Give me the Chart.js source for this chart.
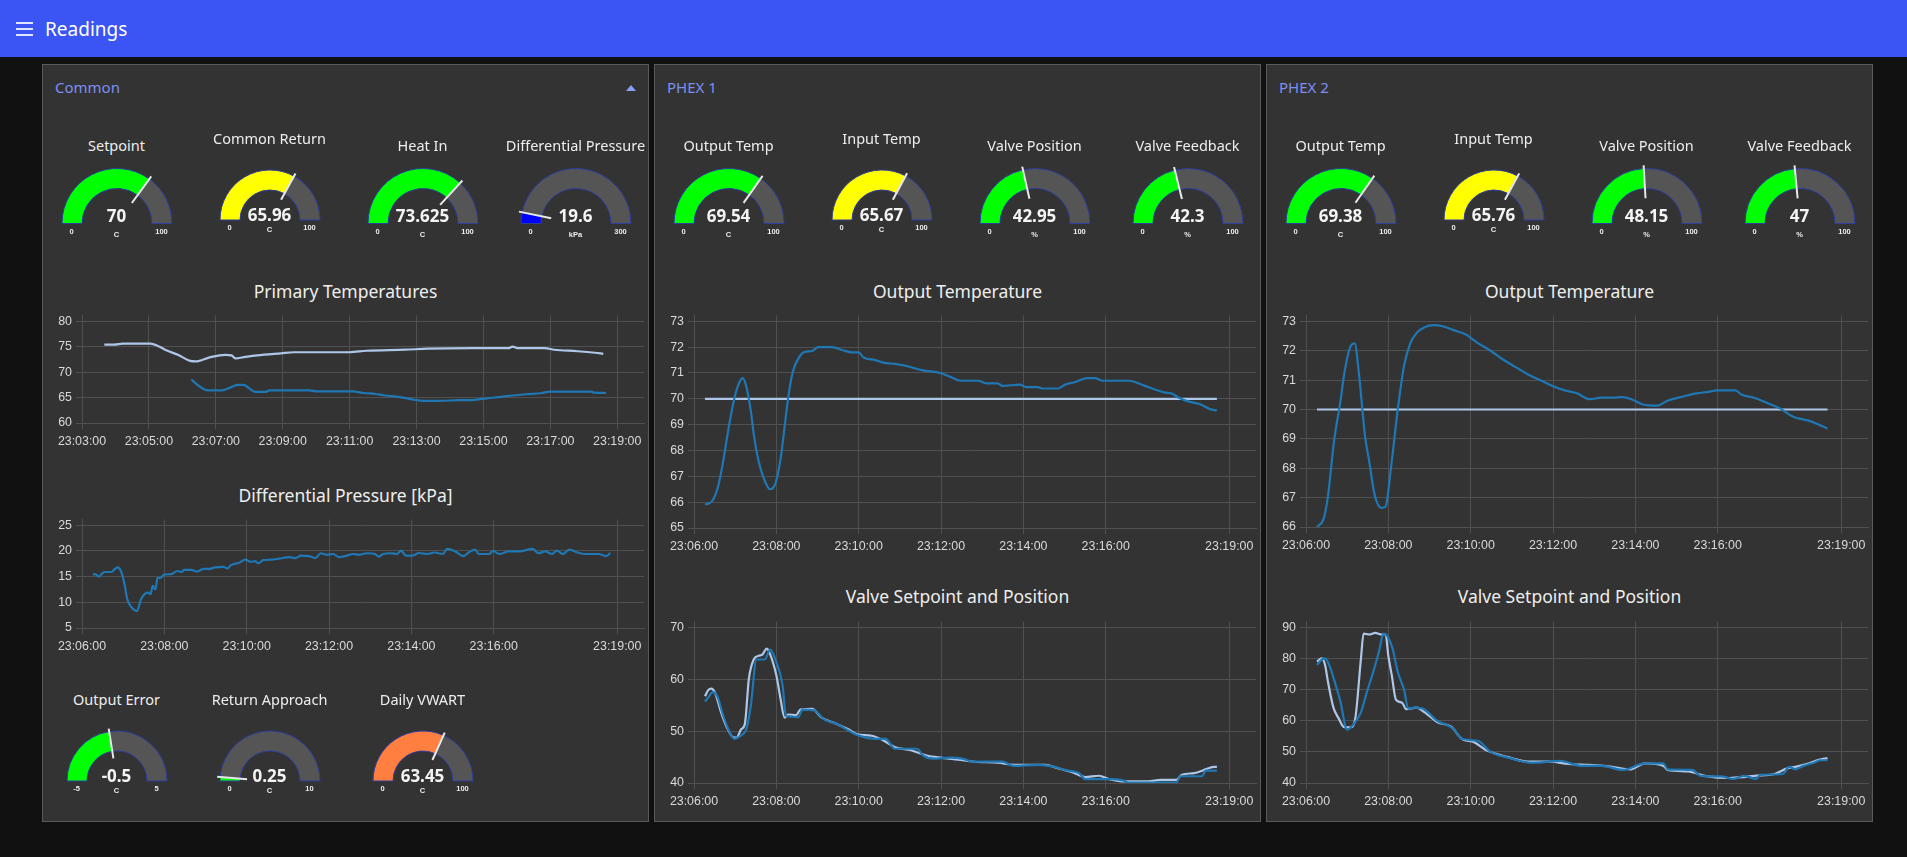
<!DOCTYPE html>
<html>
<head>
<meta charset="utf-8">
<title>Readings</title>
<script src="https://cdn.jsdelivr.net/npm/chart.js@4.4.1/dist/chart.umd.min.js"></script>
<style>
  html, body { margin: 0; padding: 0; width: 1907px; height: 857px; overflow: hidden; background: #111111; font-family: "Noto Sans", sans-serif; }
  canvas { position: absolute; }
  #toolbar { position: absolute; left: 0; top: 0; width: 1907px; height: 57px; background: #3a55f4; }
  .burger { position: absolute; left: 16px; width: 17px; height: 2px; background: #dfe4ff; }
  .panel { position: absolute; top: 64px; width: 605px; height: 756px; background: #333333; border: 1px solid #5a5a5a; }
  .lbl { position: absolute; transform: translate(-50%, -50%); white-space: nowrap; line-height: 1; color: #ececec; }
  .left { transform: translate(0, -50%); }
  .appTitle { font-size: 19px; color: #ffffff; }
  .panelTitle { font-size: 15px; color: #7b8ff2; }
  .chartTitle { font-size: 17.5px; color: #eeeeee; }
  .gtitle { font-size: 14.5px; color: #eeeeee; }
  .gvalue { font-size: 17px; font-weight: bold; color: #f4f4f4; }
  .gsmall { font-family: "Liberation Sans", sans-serif; font-size: 7.5px; font-weight: bold; color: #eeeeee; }
  .caret { position: absolute; width: 0; height: 0; border-left: 5px solid transparent; border-right: 5px solid transparent; border-bottom: 6px solid #8a9ef5; }
</style>
</head>
<body>
<div id="toolbar">
  <div class="burger" style="top:22px"></div>
  <div class="burger" style="top:28px"></div>
  <div class="burger" style="top:34px"></div>
</div>
<script>
// ---------- data ----------
const panelTitles = ['Common', 'PHEX 1', 'PHEX 2'];

const commonGaugeTitles = ['Setpoint', 'Common Return', 'Heat In', 'Differential Pressure'];
const commonGaugeValues = [70, 65.96, 73.625, 19.6];
const commonGaugeMin = [0, 0, 0, 0];
const commonGaugeMax = [100, 100, 100, 300];
const commonGaugeUnits = ['C', 'C', 'C', 'kPa'];

const lowerGaugeTitles = ['Output Error', 'Return Approach', 'Daily VWART'];
const lowerGaugeValues = [-0.5, 0.25, 63.45];
const lowerGaugeMin = [-5, 0, 0];
const lowerGaugeMax = [5, 10, 100];
const lowerGaugeUnits = ['C', 'C', 'C'];

const phexGaugeTitles = ['Output Temp', 'Input Temp', 'Valve Position', 'Valve Feedback'];
const phexGaugeMin = [0, 0, 0, 0];
const phexGaugeMax = [100, 100, 100, 100];
const phexGaugeUnits = ['C', 'C', '%', '%'];
const phex1GaugeValues = [69.54, 65.67, 42.95, 42.3];
const phex2GaugeValues = [69.38, 65.76, 48.15, 47];

// tick labels
const primaryXTicks = ['23:03:00', '23:05:00', '23:07:00', '23:09:00', '23:11:00', '23:13:00', '23:15:00', '23:17:00', '23:19:00'];
const recentXTicks = ['23:06:00', '23:08:00', '23:10:00', '23:12:00', '23:14:00', '23:16:00', '23:19:00'];
const primaryXRange = ['23:03:00', '23:19:48'];
const recentXRange = ['23:06:00', '23:19:39'];
const primaryYTicks = [60, 65, 70, 75, 80];
const pressureYTicks = [5, 10, 15, 20, 25];
const phex1TempYTicks = [65, 66, 67, 68, 69, 70, 71, 72, 73];
const phex1ValveYTicks = [40, 50, 60, 70];
const phex2TempYTicks = [66, 67, 68, 69, 70, 71, 72, 73];
const phex2ValveYTicks = [40, 50, 60, 70, 80, 90];

// series (times in seconds after 23:00:00)
const heatInTimes = [220, 238, 253, 303, 317, 331, 352, 374, 384, 409, 437, 448, 455, 473, 494, 537, 560, 660, 690, 760, 800, 880, 945, 952, 963, 1010, 1027, 1069, 1100, 1115];
const heatInValues = [75.4, 75.4, 75.6, 75.6, 75.1, 74.3, 73.4, 72.2, 72.1, 72.9, 73.4, 73.3, 72.7, 73.0, 73.3, 73.7, 73.9, 73.9, 74.2, 74.4, 74.6, 74.7, 74.7, 75.0, 74.7, 74.7, 74.4, 74.1, 73.8, 73.6];
const commonReturnTimes = [376, 388, 406, 431, 445, 459, 470, 480, 491, 509, 516, 587, 601, 665, 686, 707, 721, 750, 775, 792, 821, 856, 885, 906, 927, 956, 977, 1005, 1019, 1094, 1098, 1120];
const commonReturnValues = [68.6, 67.4, 66.4, 66.4, 66.9, 67.5, 67.5, 66.8, 66.1, 66.1, 66.4, 66.4, 66.2, 66.2, 65.9, 65.7, 65.45, 65.1, 64.6, 64.35, 64.35, 64.5, 64.55, 64.85, 65.1, 65.45, 65.65, 65.9, 66.15, 66.15, 65.95, 65.9];

const pressureTimes = [376, 379, 385, 390, 394, 403, 408, 412, 417, 422, 426, 433, 440, 446, 452, 456, 460, 463, 467, 470, 474, 480, 490, 499, 505, 509, 519, 528, 537, 545, 554, 566, 572, 577, 589, 598, 606, 612, 617, 624, 636, 647, 662, 671, 679, 691, 700, 708, 717, 726, 735, 746, 755, 764, 775, 787, 792, 799, 810, 819, 825, 832, 842, 851, 863, 874, 886, 892, 904, 916, 924, 933, 938, 953, 959, 968, 982, 997, 1017, 1025, 1035, 1045, 1052, 1061, 1070, 1081, 1093, 1113, 1124, 1130];
const pressureValues = [15.4, 15.5, 15.0, 15.7, 15.9, 15.9, 16.5, 16.8, 16.0, 13.5, 10.6, 8.9, 8.3, 10.6, 11.7, 11.9, 11.6, 13.2, 12.5, 14.75, 14.75, 15.4, 15.5, 16.1, 15.9, 16.3, 16.3, 16.0, 16.5, 16.5, 16.8, 16.9, 16.6, 17.25, 17.7, 18.3, 17.9, 18.0, 17.6, 18.2, 18.3, 18.5, 18.8, 18.6, 19.1, 19.0, 18.6, 19.55, 19.25, 19.4, 18.8, 19.1, 19.4, 19.25, 19.55, 19.4, 18.9, 19.4, 19.55, 19.4, 20.05, 19.1, 19.1, 19.6, 19.4, 19.7, 19.4, 20.4, 19.9, 19.0, 19.75, 20.25, 19.4, 19.4, 20.0, 19.4, 19.9, 19.9, 20.4, 19.55, 19.9, 19.4, 20.05, 19.4, 20.25, 19.75, 19.4, 19.4, 19.0, 19.6];

const phex1SetpointTimes = [376, 1122];
const phex1SetpointValues = [70, 70];
const phex1OutputTimes = [376, 382, 388, 395, 402, 410, 417, 424, 431, 436, 443, 447, 454, 462, 471, 479, 486, 492, 497, 504, 512, 520, 532, 541, 561, 578, 590, 600, 607, 624, 636, 653, 665, 679, 694, 719, 734, 748, 774, 786, 803, 809, 835, 844, 861, 867, 890, 901, 916, 933, 944, 956, 968, 994, 1017, 1045, 1057, 1066, 1080, 1097, 1112, 1122];
const phex1OutputValues = [65.92, 65.95, 66.1, 66.6, 67.5, 68.8, 69.8, 70.5, 70.8, 70.5, 69.5, 68.65, 67.6, 66.9, 66.5, 66.75, 67.65, 68.9, 70.0, 71.05, 71.55, 71.8, 71.85, 72.0, 72.0, 71.87, 71.8, 71.8, 71.6, 71.5, 71.4, 71.35, 71.3, 71.2, 71.1, 71.0, 70.85, 70.7, 70.7, 70.6, 70.6, 70.5, 70.55, 70.45, 70.45, 70.4, 70.4, 70.55, 70.65, 70.8, 70.8, 70.7, 70.7, 70.7, 70.5, 70.25, 70.2, 70.05, 69.9, 69.8, 69.6, 69.55];

const phex1ValveSpTimes = [376, 381, 385, 391, 399, 408, 417, 422, 429, 434, 440, 447, 454, 460, 466, 471, 480, 486, 492, 497, 509, 515, 532, 546, 564, 584, 598, 619, 636, 653, 676, 699, 722, 745, 769, 803, 826, 849, 872, 890, 913, 930, 950, 965, 988, 1022, 1040, 1063, 1071, 1089, 1103, 1112, 1122];
const phex1ValveSpValues = [56.7, 57.95, 58.2, 57.3, 53.8, 50.7, 48.8, 48.7, 50.4, 51.3, 60.1, 63.8, 64.5, 64.8, 65.9, 64.8, 60.75, 56.3, 52.6, 53.2, 53.1, 54.15, 54.3, 52.6, 51.6, 50.4, 49.4, 49.1, 48.2, 46.9, 46.3, 45.3, 44.85, 44.5, 44.1, 43.9, 43.5, 43.5, 43.5, 42.85, 42.0, 41.15, 41.4, 40.75, 40.3, 40.3, 40.6, 40.6, 41.6, 41.9, 42.5, 42.95, 43.15];
const phex1ValvePosTimes = [376, 382, 387, 394, 402, 411, 419, 428, 437, 443, 451, 463, 471, 480, 489, 494, 512, 518, 535, 549, 569, 590, 601, 624, 639, 653, 685, 694, 708, 734, 751, 766, 809, 826, 861, 884, 901, 921, 930, 965, 985, 994, 1063, 1069, 1100, 1106, 1122];
const phex1ValvePosValues = [55.7, 56.7, 57.5, 56.7, 53.2, 50.05, 48.5, 49.1, 50.7, 55.1, 63.8, 63.8, 65.7, 63.3, 58.9, 52.9, 52.7, 54.15, 54.0, 52.3, 51.3, 49.75, 49.1, 48.5, 48.5, 46.6, 46.6, 45.3, 44.7, 44.9, 44.7, 44.1, 44.1, 43.3, 43.5, 43.15, 42.5, 41.9, 40.75, 40.75, 40.5, 40.1, 40.1, 41.3, 41.3, 42.4, 42.4];

const phex2SetpointTimes = [376, 1120];
const phex2SetpointValues = [70, 70];
const phex2OutputTimes = [376, 386, 392, 401, 410, 416, 425, 431, 437, 446, 452, 460, 470, 476, 484, 494, 503, 512, 521, 533, 545, 560, 575, 593, 611, 629, 647, 665, 683, 701, 719, 737, 755, 773, 791, 809, 821, 836, 851, 872, 887, 911, 929, 947, 959, 986, 995, 1013, 1034, 1052, 1070, 1091, 1106, 1120];
const phex2OutputValues = [66.0, 66.3, 67.05, 68.95, 70.25, 71.25, 72.15, 72.25, 71.25, 69.1, 68.25, 67.1, 66.65, 66.7, 68.05, 70.05, 71.5, 72.25, 72.6, 72.8, 72.87, 72.83, 72.7, 72.55, 72.25, 72.0, 71.7, 71.45, 71.2, 71.0, 70.8, 70.65, 70.55, 70.35, 70.4, 70.4, 70.42, 70.33, 70.17, 70.13, 70.3, 70.45, 70.55, 70.6, 70.65, 70.65, 70.5, 70.4, 70.2, 70.02, 69.75, 69.63, 69.5, 69.35];

const phex2ValveSpTimes = [376, 383, 388, 392, 400, 407, 416, 425, 432, 440, 444, 452, 461, 470, 476, 480, 485, 491, 500, 506, 521, 533, 551, 572, 587, 605, 623, 653, 683, 713, 743, 773, 803, 833, 854, 881, 887, 917, 941, 977, 998, 1013, 1043, 1061, 1073, 1091, 1109, 1120];
const phex2ValveSpValues = [79.0, 80.0, 77.7, 72.5, 64.2, 61.0, 57.9, 57.9, 61.0, 79.8, 88.0, 87.7, 88.2, 87.7, 87.8, 80.8, 74.6, 66.8, 65.8, 63.7, 64.2, 62.7, 59.6, 58.0, 54.2, 53.1, 50.5, 48.4, 46.9, 46.9, 46.1, 45.8, 45.3, 44.4, 46.3, 45.5, 44.2, 43.7, 42.3, 41.6, 41.9, 42.3, 42.9, 44.7, 45.2, 46.2, 47.5, 48.0];
const phex2ValvePosTimes = [376, 383, 388, 395, 401, 410, 420, 428, 440, 449, 458, 466, 473, 479, 486, 494, 503, 509, 518, 530, 551, 575, 587, 611, 629, 659, 689, 731, 761, 791, 821, 854, 881, 887, 923, 935, 965, 983, 998, 1016, 1022, 1055, 1064, 1073, 1085, 1100, 1109, 1120];
const phex2ValvePosValues = [77.9, 79.6, 80.0, 77.2, 73.1, 66.3, 57.1, 58.5, 62.7, 69.4, 75.7, 81.9, 88.0, 87.0, 83.3, 75.5, 69.9, 63.9, 64.2, 63.9, 60.0, 57.4, 54.2, 53.5, 50.0, 47.9, 46.5, 47.1, 45.5, 45.5, 44.2, 46.3, 46.3, 44.4, 44.2, 42.3, 42.1, 41.3, 42.3, 41.3, 42.6, 42.9, 45.2, 44.4, 45.5, 46.5, 47.3, 47.3];

// ---------- styles & layout ----------
const DARK = '#1f77b4';
const LIGHT = '#aec7e8';
const GRID = '#505050';
const TICK = '#dadada';
const PANEL_LEFTS = [42, 654, 1266];
const GAUGE_X = [74.5, 227.5, 380.5, 533.5];
const commonGaugeColours = ['#00ff00', '#ffff00', '#00ff00', '#0000ff'];
const commonGaugeSmall = [false, true, false, false];
const lowerGaugeColours = ['#00ff00', '#00ff00', '#ff7f40'];
const phexGaugeColours = ['#00ff00', '#ffff00', '#00ff00', '#00ff00'];
const phexGaugeSmall = [false, true, false, false];

function label(text, x, y, cls) {
  const d = document.createElement('div');
  d.className = 'lbl ' + cls;
  d.textContent = text;
  d.style.left = x + 'px';
  d.style.top = y + 'px';
  document.body.appendChild(d);
  return d;
}

function seconds(clock) {
  const [h, m, s] = clock.split(':').map(Number);
  return (h - 23) * 3600 + m * 60 + s;
}

function clockLabel(sec) {
  const t = 23 * 3600 + Math.round(sec);
  return [Math.floor(t / 3600), Math.floor(t % 3600 / 60), t % 60]
    .map(n => String(n).padStart(2, '0')).join(':');
}

// needle drawn on top of the half doughnut
const needlePlugin = {
  id: 'gaugeNeedle',
  afterDatasetsDraw(chart, args, opts) {
    const arc = chart.getDatasetMeta(0).data[0];
    const { x, y, outerRadius } = arc.getProps(['x', 'y', 'outerRadius'], true);
    const a = Math.PI * (1 + opts.fraction);
    const ctx = chart.ctx;
    ctx.save();
    ctx.strokeStyle = '#e8e8e8';
    ctx.lineWidth = 2;
    ctx.beginPath();
    ctx.moveTo(x + Math.cos(a) * outerRadius * 0.46, y + Math.sin(a) * outerRadius * 0.46);
    ctx.lineTo(x + Math.cos(a) * outerRadius * 1.06, y + Math.sin(a) * outerRadius * 1.06);
    ctx.stroke();
    ctx.restore();
  }
};

function gauge(cx, cy, small, title, value, min, max, unit, colour) {
  const R = small ? 50 : 55;
  const cv = document.createElement('canvas');
  cv.width = 150;
  cv.height = 80;
  cv.style.left = (cx - 75) + 'px';
  cv.style.top = (cy - 40 - R / 2) + 'px';
  document.body.appendChild(cv);
  new Chart(cv, {
    type: 'doughnut',
    data: {
      datasets: [{
        data: [value - min, max - value],
        backgroundColor: [colour, '#555555'],
        borderColor: '#2e3d9e',
        borderWidth: 1
      }]
    },
    options: {
      responsive: false,
      animation: false,
      events: [],
      rotation: -90,
      circumference: 180,
      radius: R,
      cutout: ((R - 20) / R * 100) + '%',
      plugins: {
        legend: { display: false },
        tooltip: { enabled: false },
        gaugeNeedle: { fraction: (value - min) / (max - min) }
      }
    },
    plugins: [needlePlugin]
  });
  label(title, cx, cy + (small ? -82 : -78), 'gtitle');
  label(String(value), cx, cy + (small ? -6.5 : -8), 'gvalue');
  label(String(min), cx - (R - 10), cy + (small ? 8 : 9), 'gsmall');
  label(String(max), cx + (R - 10), cy + (small ? 8 : 9), 'gsmall');
  label(unit, cx, cy + (small ? 10 : 11.5), 'gsmall');
}

function lineChart(left, top, bottom, xTicks, xRange, yTicks, series) {
  const padTop = 8, axisH = 28, gap = 6;
  const cv = document.createElement('canvas');
  cv.width = 606;
  cv.height = bottom - top + padTop + axisH;
  cv.style.left = left + 'px';
  cv.style.top = (top - padTop) + 'px';
  document.body.appendChild(cv);
  const plotH = bottom - top;
  const yMin = yTicks[0];
  const yTop = yTicks[yTicks.length - 1];
  const yMax = yTop + (yTop - yMin) * gap / (plotH - gap);
  const xt = xTicks.map(seconds);
  const tickFont = { family: '"Liberation Sans", Arial, sans-serif', size: 12.4 };
  new Chart(cv, {
    type: 'line',
    data: {
      datasets: series.map(s => ({
        data: s.times.map((t, i) => ({ x: t, y: s.values[i] })),
        borderColor: s.colour,
        borderWidth: 2.2,
        pointRadius: 0,
        fill: false,
        cubicInterpolationMode: 'monotone'
      }))
    },
    options: {
      responsive: false,
      animation: false,
      events: [],
      layout: { padding: { top: padTop, right: 4, left: 0, bottom: 0 } },
      plugins: { legend: { display: false }, tooltip: { enabled: false } },
      scales: {
        x: {
          type: 'linear',
          min: seconds(xRange[0]),
          max: seconds(xRange[1]),
          afterBuildTicks: sc => { sc.ticks = xt.map(v => ({ value: v })); },
          afterFit: sc => { sc.height = axisH; },
          grid: { color: GRID, tickLength: 6 },
          border: { color: GRID },
          ticks: { color: TICK, font: tickFont, padding: 5, maxRotation: 0, autoSkip: false, callback: v => clockLabel(v) }
        },
        y: {
          min: yMin,
          max: yMax,
          afterBuildTicks: sc => { sc.ticks = yTicks.map(v => ({ value: v })); },
          afterFit: sc => { sc.width = 40; },
          grid: { color: GRID, tickLength: 6 },
          border: { color: GRID },
          ticks: { color: TICK, font: tickFont, padding: 4 }
        }
      }
    }
  });
}

// ---------- page ----------
label('Readings', 45, 28.5, 'appTitle left');

PANEL_LEFTS.forEach((px, i) => {
  const p = document.createElement('div');
  p.className = 'panel';
  p.style.left = px + 'px';
  document.body.appendChild(p);
  label(panelTitles[i], px + 13, 87, 'panelTitle left');
});
const caret = document.createElement('div');
caret.className = 'caret';
caret.style.left = '626px';
caret.style.top = '85px';
document.body.appendChild(caret);

// Common panel
const C = PANEL_LEFTS[0];
commonGaugeTitles.forEach((t, i) => {
  const small = commonGaugeSmall[i];
  gauge(C + GAUGE_X[i], small ? 220 : 223, small, t, commonGaugeValues[i], commonGaugeMin[i], commonGaugeMax[i], commonGaugeUnits[i], commonGaugeColours[i]);
});
label('Primary Temperatures', C + 303.5, 291.5, 'chartTitle');
lineChart(C, 311.7, 423.3, primaryXTicks, primaryXRange, primaryYTicks, [
  { times: commonReturnTimes, values: commonReturnValues, colour: DARK },
  { times: heatInTimes, values: heatInValues, colour: LIGHT }
]);
label('Differential Pressure [kPa]', C + 303.5, 496, 'chartTitle');
lineChart(C, 516, 628, recentXTicks, recentXRange, pressureYTicks, [
  { times: pressureTimes, values: pressureValues, colour: DARK }
]);
lowerGaugeTitles.forEach((t, i) => {
  gauge(C + GAUGE_X[i], 781, true, t, lowerGaugeValues[i], lowerGaugeMin[i], lowerGaugeMax[i], lowerGaugeUnits[i], lowerGaugeColours[i]);
});

// PHEX panels
function phexPanel(px, values, tempTicks, tempTop, tempSeries, valveTicks, valveSeries) {
  phexGaugeTitles.forEach((t, i) => {
    const small = phexGaugeSmall[i];
    gauge(px + GAUGE_X[i], small ? 220 : 223, small, t, values[i], phexGaugeMin[i], phexGaugeMax[i], phexGaugeUnits[i], phexGaugeColours[i]);
  });
  label('Output Temperature', px + 303.5, 291.5, 'chartTitle');
  lineChart(px, 312.3, tempTop, recentXTicks, recentXRange, tempTicks, tempSeries);
  label('Valve Setpoint and Position', px + 303.5, 597.3, 'chartTitle');
  lineChart(px, 618.3, 783.3, recentXTicks, recentXRange, valveTicks, valveSeries);
}

phexPanel(PANEL_LEFTS[1], phex1GaugeValues, phex1TempYTicks, 529.3, [
  { times: phex1OutputTimes, values: phex1OutputValues, colour: DARK },
  { times: phex1SetpointTimes, values: phex1SetpointValues, colour: LIGHT }
], phex1ValveYTicks, [
  { times: phex1ValvePosTimes, values: phex1ValvePosValues, colour: DARK },
  { times: phex1ValveSpTimes, values: phex1ValveSpValues, colour: LIGHT }
]);

phexPanel(PANEL_LEFTS[2], phex2GaugeValues, phex2TempYTicks, 527.7, [
  { times: phex2OutputTimes, values: phex2OutputValues, colour: DARK },
  { times: phex2SetpointTimes, values: phex2SetpointValues, colour: LIGHT }
], phex2ValveYTicks, [
  { times: phex2ValvePosTimes, values: phex2ValvePosValues, colour: DARK },
  { times: phex2ValveSpTimes, values: phex2ValveSpValues, colour: LIGHT }
]);
</script>
</body>
</html>
